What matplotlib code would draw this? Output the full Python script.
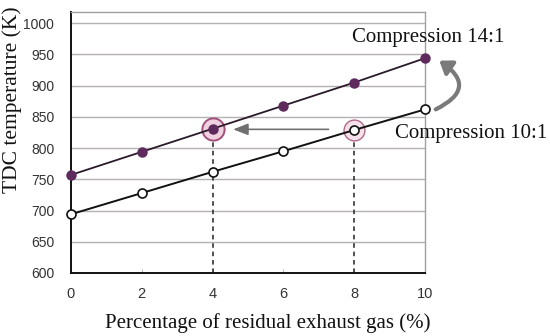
import matplotlib.pyplot as plt
import numpy as np

# residual exhaust gas (%) and TDC temperature (K)
residual = [0, 2, 4, 6, 8, 10]
temp_14 = [757, 794, 831, 868, 905, 944]
temp_10 = [694, 728, 762, 795, 829, 862]
y_ticks = [600, 650, 700, 750, 800, 850, 900, 950, 1000]
x_ticks = [0, 2, 4, 6, 8, 10]

SERIF = ["Liberation Serif", "DejaVu Serif"]
SANS = ["Liberation Sans", "DejaVu Sans"]

fig = plt.figure(figsize=(5.5, 3.36), dpi=100)
ax = fig.add_axes([0.129, 0.1875, 0.644, 0.777])
ax.set_xlim(0, 10)
ax.set_ylim(600, 1018)

# grid lines at each 50 K
for yv in y_ticks[1:]:
    ax.axhline(yv, color="#b4b0b4", lw=1.0, zorder=1)

for side in ["top", "right"]:
    ax.spines[side].set_color("#a0a0a0")
    ax.spines[side].set_linewidth(1.0)
for side in ["left", "bottom"]:
    ax.spines[side].set_color("#111111")
    ax.spines[side].set_linewidth(1.4)

ax.set_xticks(x_ticks)
ax.set_yticks(y_ticks)
ax.set_xticklabels([str(v) for v in x_ticks], family=SANS, fontsize=10.5, color="#333333")
ax.set_yticklabels([str(v) for v in y_ticks], family=SANS, fontsize=10, color="#333333")
ax.tick_params(axis="y", length=0, pad=12)
ax.tick_params(axis="x", direction="in", length=3, color="#bbbbbb", pad=10)

# dashed guides at 4 % and 8 %
ax.plot([4, 4], [600, temp_14[2]], ls=(0, (3, 2.5)), color="#222222", lw=1.1, zorder=2)
ax.plot([8, 8], [600, temp_10[4]], ls=(0, (3, 2.5)), color="#222222", lw=1.1, zorder=2)

# highlight rings
ax.plot(4, temp_14[2], "o", ms=16, mfc="#f1d0e0", mec="#a0507a", mew=1.4, zorder=3)
ax.plot(8, temp_10[4], "o", ms=15, mfc="#f6e0ea", mec="#b06a8a", mew=1.0, zorder=3)

ax.plot(residual, temp_14, "-", color="#2a1a2a", lw=1.3, zorder=4)
ax.plot(residual, temp_14, "o", ms=6.5, mfc="#5e2a5e", mec="#5e2a5e", zorder=5, clip_on=False)
ax.plot(residual, temp_10, "-", color="#111111", lw=1.4, zorder=4)
ax.plot(residual, temp_10, "o", ms=6.5, mfc="white", mec="#111111", mew=1.2, zorder=5, clip_on=False)

# horizontal arrow 8 % -> 4 %
ax.annotate("", xy=(4.5, 830), xytext=(7.35, 830),
            arrowprops=dict(arrowstyle="-|>,head_length=0.9,head_width=0.35",
                            color="#707070", lw=1.2), zorder=6)

# curved arrow 10:1 -> 14:1
ax.annotate("", xy=(10.4, 940), xytext=(10.3, 862), annotation_clip=False,
            arrowprops=dict(arrowstyle="-|>,head_length=0.7,head_width=0.5",
                            connectionstyle="arc3,rad=0.85",
                            shrinkA=0, shrinkB=0,
                            color="#7a7a7a", lw=3.0), zorder=6)

ax.text(10.08, 977, "Compression 14:1", family=SERIF, fontsize=15, color="#111111",
        ha="center", va="center", clip_on=False)
ax.text(9.15, 824, "Compression 10:1", family=SERIF, fontsize=15, color="#111111",
        ha="left", va="center", clip_on=False)

ax.set_xlabel("Percentage of residual exhaust gas (%)", family=SERIF, fontsize=15,
              color="#111111")
ax.xaxis.label.set_verticalalignment("center")
ax.xaxis.set_label_coords(0.556, -0.19)
ax.set_ylabel("TDC temperature (K)", family=SERIF, fontsize=15.5, color="#111111")
ax.yaxis.label.set_verticalalignment("center")
ax.yaxis.set_label_coords(-0.167, 0.663)

fig.savefig("out.png", dpi=100)
